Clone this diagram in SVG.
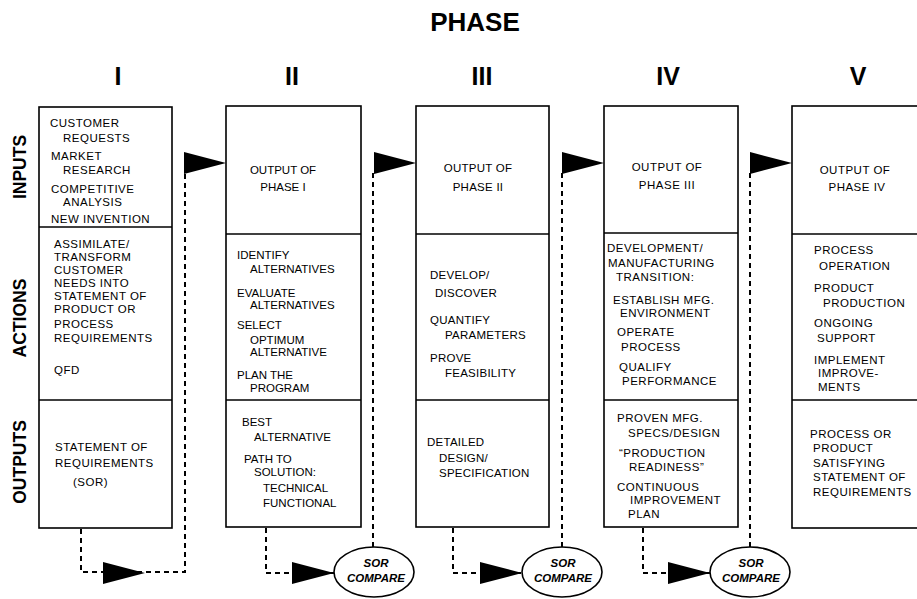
<svg xmlns="http://www.w3.org/2000/svg" width="917" height="599" viewBox="0 0 917 599">
<style>
.bg{fill:#fff}
.box{fill:none;stroke:#000;stroke-width:1.6}
.div{stroke:#000;stroke-width:1.4}
.dash{fill:none;stroke:#000;stroke-width:2;stroke-dasharray:5 4}
.head{fill:#000}
.ell{fill:#fff;stroke:#000;stroke-width:1.6}
text{font-family:"Liberation Sans",Arial,Helvetica,sans-serif;fill:#000}
.t{font-size:11.5px}
.w{letter-spacing:0.5px}
.m{letter-spacing:0.25px}
.c{text-anchor:middle}
.side{font-size:17.5px;font-weight:bold;text-anchor:middle}
.num{font-size:25px;font-weight:bold;text-anchor:middle}
.title{font-size:26px;font-weight:bold;text-anchor:middle}
.sor{font-size:11.5px;font-weight:bold;font-style:italic;text-anchor:middle}
</style>
<rect class="bg" x="0" y="0" width="917" height="599"/>

<g id="titles">
<text class="title" x="475" y="31">PHASE</text>
<text class="num" x="118" y="85">I</text>
<text class="num" x="292" y="85">II</text>
<text class="num" x="482" y="85">III</text>
<text class="num" x="668" y="85">IV</text>
<text class="num" x="858" y="85">V</text>
<text class="side" transform="translate(26,167) rotate(-90)">INPUTS</text>
<text class="side" transform="translate(26,318) rotate(-90)">ACTIONS</text>
<text class="side" transform="translate(26,462) rotate(-90)">OUTPUTS</text>
</g>

<g id="connectors">
<path class="dash" d="M81,529 V572 H185 V172"/>
<path class="dash" d="M266,528 V573 H334"/>
<path class="dash" d="M373,547 V172"/>
<path class="dash" d="M453,528 V573 H522"/>
<path class="dash" d="M562,547 V172"/>
<path class="dash" d="M643,528 V573 H710"/>
<path class="dash" d="M750,547 V172"/>
<polygon class="head" points="184,152 226,163 184,174"/>
<polygon class="head" points="374,152 416,163 374,174"/>
<polygon class="head" points="562,152 604,163 562,174"/>
<polygon class="head" points="750,152 792,163 750,174"/>
<polygon class="head" points="103,562 145,573 103,584"/>
<polygon class="head" points="292,562 334,573 292,584"/>
<polygon class="head" points="480,562 522,573 480,584"/>
<polygon class="head" points="668,562 710,573 668,584"/>
</g>

<g id="phase1">
<rect class="box" x="39" y="107" width="133" height="421"/>
<line class="div" x1="39" y1="227" x2="172" y2="227"/>
<line class="div" x1="39" y1="400" x2="172" y2="400"/>
<g class="t w">
<text x="50" y="127">CUSTOMER</text>
<text x="63" y="142">REQUESTS</text>
<text x="51" y="160">MARKET</text>
<text x="63" y="174">RESEARCH</text>
<text x="51" y="193">COMPETITIVE</text>
<text x="63" y="206">ANALYSIS</text>
<text x="51" y="223">NEW INVENTION</text>
<text x="54" y="248">ASSIMILATE/</text>
<text x="54" y="261">TRANSFORM</text>
<text x="54" y="274">CUSTOMER</text>
<text x="54" y="287">NEEDS INTO</text>
<text x="54" y="300">STATEMENT OF</text>
<text x="54" y="313">PRODUCT OR</text>
<text x="54" y="328">PROCESS</text>
<text x="54" y="342">REQUIREMENTS</text>
<text x="54" y="374">QFD</text>
<text x="55" y="451">STATEMENT OF</text>
<text x="55" y="467">REQUIREMENTS</text>
<text x="73" y="486">(SOR)</text>
</g>
</g>

<g id="phase2">
<rect class="box" x="226" y="106" width="135" height="421"/>
<line class="div" x1="226" y1="234" x2="361" y2="234"/>
<line class="div" x1="226" y1="400" x2="361" y2="400"/>
<g class="t">
<text class="c" x="283" y="174">OUTPUT OF</text>
<text class="c" x="283" y="191">PHASE I</text>
<text x="237" y="259">IDENTIFY</text>
<text x="250" y="273">ALTERNATIVES</text>
<text x="237" y="297">EVALUATE</text>
<text x="250" y="309">ALTERNATIVES</text>
<text x="237" y="329">SELECT</text>
<text x="250" y="344">OPTIMUM</text>
<text x="250" y="356">ALTERNATIVE</text>
<text x="237" y="379">PLAN THE</text>
<text x="250" y="392">PROGRAM</text>
<text x="242" y="426">BEST</text>
<text x="254" y="441">ALTERNATIVE</text>
<text x="244" y="463">PATH TO</text>
<text x="254" y="476">SOLUTION:</text>
<text x="263" y="492">TECHNICAL</text>
<text x="263" y="507">FUNCTIONAL</text>
</g>
</g>

<g id="phase3">
<rect class="box" x="416" y="106" width="133" height="421"/>
<line class="div" x1="416" y1="234" x2="549" y2="234"/>
<line class="div" x1="416" y1="400" x2="549" y2="400"/>
<g class="t m">
<text class="c" x="478" y="172">OUTPUT OF</text>
<text class="c" x="478" y="191">PHASE II</text>
<text x="430" y="279">DEVELOP/</text>
<text x="435" y="297">DISCOVER</text>
<text x="430" y="324">QUANTIFY</text>
<text x="445" y="339">PARAMETERS</text>
<text x="430" y="362">PROVE</text>
<text x="445" y="377">FEASIBILITY</text>
<text x="427" y="446">DETAILED</text>
<text x="439" y="462">DESIGN/</text>
<text x="439" y="477">SPECIFICATION</text>
</g>
</g>

<g id="phase4">
<rect class="box" x="604" y="106" width="134" height="421"/>
<line class="div" x1="604" y1="233" x2="738" y2="233"/>
<line class="div" x1="604" y1="400" x2="738" y2="400"/>
<g class="t w">
<text class="c" x="667" y="171">OUTPUT OF</text>
<text class="c" x="667" y="189">PHASE III</text>
<text x="607" y="252">DEVELOPMENT/</text>
<text x="608" y="267">MANUFACTURING</text>
<text x="616" y="281">TRANSITION:</text>
<text x="613" y="304">ESTABLISH MFG.</text>
<text x="620" y="317">ENVIRONMENT</text>
<text x="617" y="336">OPERATE</text>
<text x="621" y="351">PROCESS</text>
<text x="619" y="371">QUALIFY</text>
<text x="622" y="385">PERFORMANCE</text>
<text x="617" y="422">PROVEN MFG.</text>
<text x="628" y="437">SPECS/DESIGN</text>
<text x="619" y="457">“PRODUCTION</text>
<text x="629" y="471">READINESS”</text>
<text x="617" y="491">CONTINUOUS</text>
<text x="630" y="504">IMPROVEMENT</text>
<text x="628" y="518">PLAN</text>
</g>
</g>

<g id="phase5">
<rect class="box" x="792" y="106" width="140" height="422"/>
<line class="div" x1="792" y1="234" x2="932" y2="234"/>
<line class="div" x1="792" y1="400" x2="932" y2="400"/>
<g class="t w">
<text class="c" x="855" y="174">OUTPUT OF</text>
<text class="c" x="857" y="191">PHASE IV</text>
<text x="814" y="254">PROCESS</text>
<text x="819" y="270">OPERATION</text>
<text x="814" y="292">PRODUCT</text>
<text x="823" y="307">PRODUCTION</text>
<text x="814" y="327">ONGOING</text>
<text x="817" y="342">SUPPORT</text>
<text x="814" y="364">IMPLEMENT</text>
<text x="818" y="377">IMPROVE-</text>
<text x="818" y="391">MENTS</text>
<text x="810" y="438">PROCESS OR</text>
<text x="813" y="452">PRODUCT</text>
<text x="813" y="467">SATISFYING</text>
<text x="813" y="481">STATEMENT OF</text>
<text x="813" y="496">REQUIREMENTS</text>
</g>
</g>

<g id="sor1">
<ellipse class="ell" cx="374" cy="572" rx="40" ry="25"/>
<text class="sor" x="376" y="567">SOR</text>
<text class="sor" x="376" y="582">COMPARE</text>
</g>
<g id="sor2">
<ellipse class="ell" cx="562" cy="572" rx="40" ry="25"/>
<text class="sor" x="563" y="567">SOR</text>
<text class="sor" x="563" y="582">COMPARE</text>
</g>
<g id="sor3">
<ellipse class="ell" cx="750" cy="572" rx="40" ry="25"/>
<text class="sor" x="751" y="567">SOR</text>
<text class="sor" x="751" y="582">COMPARE</text>
</g>
</svg>
